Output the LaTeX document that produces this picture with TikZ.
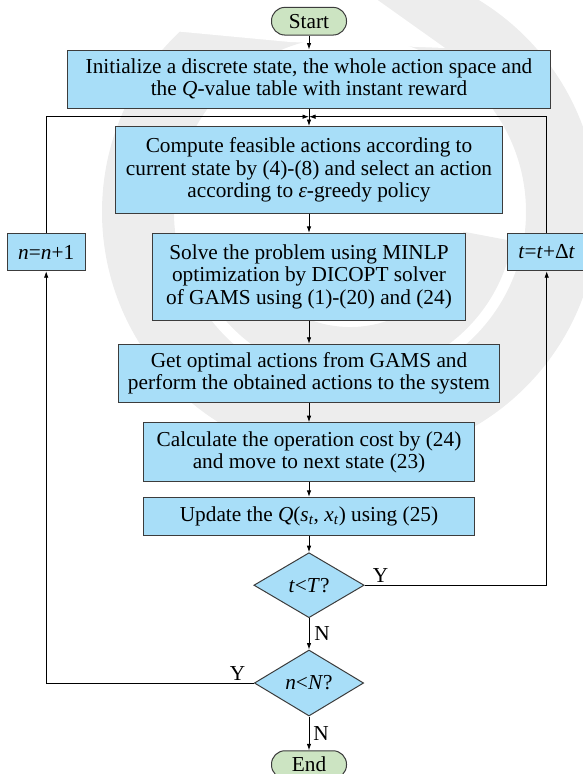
\documentclass[tikz,border=0pt]{standalone}
\usepackage{fontspec}
\setmainfont{Liberation Serif}
\usetikzlibrary{shapes.geometric,arrows.meta}
\definecolor{boxblue}{RGB}{168,222,248}
\definecolor{termgreen}{RGB}{204,228,194}
\definecolor{edgegray}{RGB}{60,60,60}
\definecolor{wmark}{RGB}{237,237,237}
\tikzset{
  every node/.style={font=\fontsize{21.3}{22.6}\selectfont},
  procbox/.style={draw=edgegray, fill=boxblue, line width=1pt, inner sep=0pt, align=center},
  termbox/.style={draw=edgegray, fill=termgreen, line width=1pt, rounded corners=13.5pt,
    inner sep=0pt, minimum width=75pt, minimum height=27.7pt},
  decbox/.style={draw=edgegray, fill=boxblue, line width=1pt, diamond, inner sep=0pt},
  arr/.style={-{Latex[length=6.5pt,width=4.5pt]}, line width=0.8pt, black},
  lbl/.style={inner sep=0pt},
  wmring/.style={draw=wmark, line cap=butt}
}
\begin{document}
\begin{tikzpicture}[x=1pt,y=-1pt]
\useasboundingbox (0,0) rectangle (582,774);
% faint background watermark
\draw[wmring, line width=72pt] (350,212) circle[radius=212];
\fill[white] (100,-100) -- (100,28) -- (173,31) -- (290,42) -- (445,48) -- (310,-48) -- (300,-100) -- cycle;
\draw[wmring, line width=50pt] (350,212) ++(10:140) arc[start angle=10, end angle=150, radius=140];

% nodes
\node[termbox] (start) at (309,21.2) {Start};
\node[procbox, minimum width=483pt, minimum height=58pt] (init) at (309,79)
  {Initialize a discrete state, the whole action space and\\the \textit{Q}-value table with instant reward};
\coordinate (j) at (309,116.7);
\node[procbox, minimum width=386.4pt, minimum height=87pt] (comp) at (309,170)
  {Compute feasible actions according to\\current state by (4)-(8) and select an action\\according to \textit{ε}-greedy policy};
\node[procbox, minimum width=313.4pt, minimum height=86.7pt] (solve) at (309,276.7)
  {Solve the problem using MINLP\\optimization by DICOPT solver\\of GAMS using (1)-(20) and (24)};
\node[procbox, minimum width=380.8pt, minimum height=58pt] (get) at (309,373.3)
  {Get optimal actions from GAMS and\\perform the obtained actions to the system};
\node[procbox, minimum width=331pt, minimum height=59pt] (calc) at (309,452.2)
  {Calculate the operation cost by (24)\\and move to next state (23)};
\node[procbox, minimum width=331pt, minimum height=37.7pt] (upd) at (309,516.2)
  {Update the \textit{Q}(\textit{s}\textsubscript{\textit{t}}, \textit{x}\textsubscript{\textit{t}}) using (25)};
\node[decbox, minimum width=110.3pt, minimum height=65pt] (d1) at (309,585.2)
  {\textit{t}<\textit{T}?};
\node[decbox, minimum width=109.3pt, minimum height=66pt] (d2) at (309,683)
  {\textit{n}<\textit{N}?};
\node[termbox] (end) at (309,764.6) {End};
\node[procbox, minimum width=77.7pt, minimum height=37.4pt] (nbox) at (46.2,252)
  {\textit{n}=\textit{n}+1};
\node[procbox, minimum width=78pt, minimum height=37.4pt] (tbox) at (546.7,252)
  {\textit{t}=\textit{t}+Δ\textit{t}};

% connectors
\draw[arr] (start) -- (init);
\draw[arr] (init) -- (comp);
\draw[arr] (comp) -- (solve);
\draw[arr] (solve) -- (get);
\draw[arr] (get) -- (calc);
\draw[arr] (calc) -- (upd);
\draw[arr] (upd) -- (d1);
\draw[arr] (d1) -- node[lbl, anchor=west, xshift=5pt] {N} (d2);
\draw[arr] (d2) -- node[lbl, anchor=west, xshift=4pt] {N} (end);
\draw[arr] (d1.east) -| (tbox.south);
\draw[arr] (tbox.north) |- (j);
\draw[arr] (d2.west) -| (nbox.south);
\draw[arr] (nbox.north) |- (j);
\node[lbl, anchor=base west] (y1) at ([xshift=8pt,yshift=3pt]d1.east) {Y};
\node[lbl, anchor=base east] (y2) at ([xshift=-8.5pt,yshift=2.5pt]d2.west) {Y};
\end{tikzpicture}
\end{document}
